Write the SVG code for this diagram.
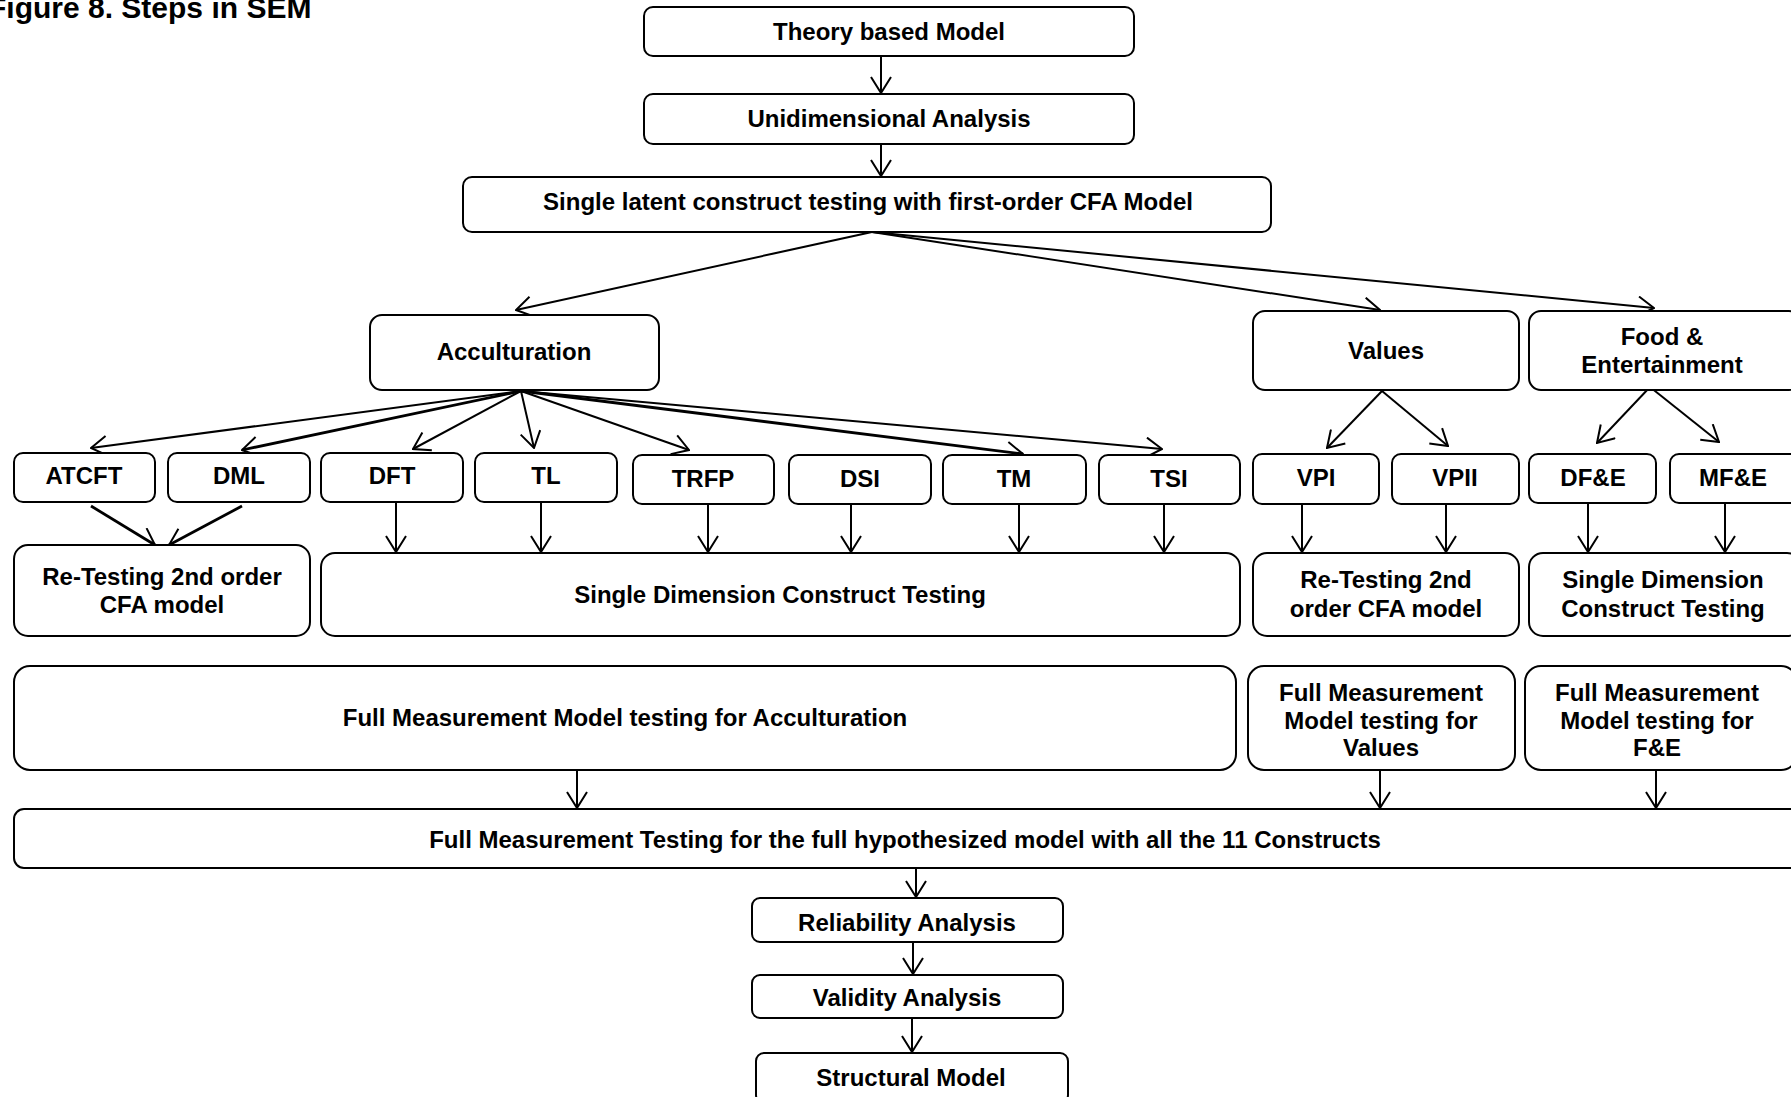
<svg xmlns="http://www.w3.org/2000/svg" width="1791" height="1097" viewBox="0 0 1791 1097">
  <style>
    .box { fill: #fff; stroke: #000; stroke-width: 2; }
    .lbl { font-family: "Liberation Sans", Arial, sans-serif; font-weight: bold; font-size: 24px; fill: #000; text-anchor: middle; }
    .title { font-family: "Liberation Sans", Arial, sans-serif; font-weight: bold; font-size: 30px; fill: #000; }
    .edge { fill: none; stroke: #000; stroke-width: 2; marker-end: url(#arr); }
    .heavy { stroke-width: 2.8; }
  </style>
  <defs>
    <marker id="arr" viewBox="0 0 18 22" refX="17" refY="11" markerWidth="18" markerHeight="22" markerUnits="userSpaceOnUse" orient="auto">
      <path d="M1,1 L17,11 L1,21" fill="none" stroke="#000" stroke-width="2"/>
    </marker>
  </defs>
  <rect width="1791" height="1097" fill="#fff"/>

  <text class="title" x="-12" y="18">Figure 8. Steps in SEM</text>

  <!-- connectors -->
  <g id="connectors">
    <line class="edge" x1="881" y1="56" x2="881" y2="93"/>
    <line class="edge" x1="881" y1="144" x2="881" y2="176"/>
    <line class="edge" x1="872" y1="232" x2="516" y2="310"/>
    <line class="edge" x1="872" y1="232" x2="1380" y2="310"/>
    <line class="edge" x1="872" y1="232" x2="1654" y2="308"/>

    <line class="edge" x1="521" y1="391" x2="91" y2="448"/>
    <line class="edge heavy" x1="521" y1="391" x2="242" y2="450"/>
    <line class="edge" x1="521" y1="391" x2="413" y2="449"/>
    <line class="edge" x1="521" y1="391" x2="534" y2="448"/>
    <line class="edge" x1="521" y1="391" x2="689" y2="450"/>
    <line class="edge heavy" x1="521" y1="391" x2="1023" y2="454"/>
    <line class="edge" x1="521" y1="391" x2="1162" y2="449"/>

    <line class="edge" x1="1382" y1="391" x2="1327" y2="448"/>
    <line class="edge" x1="1382" y1="391" x2="1448" y2="446"/>
    <line class="edge" x1="1650" y1="387" x2="1597" y2="443"/>
    <line class="edge" x1="1650" y1="387" x2="1719" y2="442"/>

    <line class="edge heavy" x1="91" y1="506" x2="155" y2="545"/>
    <line class="edge heavy" x1="242" y1="506" x2="169" y2="545"/>
    <line class="edge" x1="396" y1="502" x2="396" y2="552"/>
    <line class="edge" x1="541" y1="502" x2="541" y2="552"/>
    <line class="edge" x1="708" y1="505" x2="708" y2="552"/>
    <line class="edge" x1="851" y1="505" x2="851" y2="552"/>
    <line class="edge" x1="1019" y1="505" x2="1019" y2="552"/>
    <line class="edge" x1="1164" y1="505" x2="1164" y2="552"/>
    <line class="edge" x1="1302" y1="504" x2="1302" y2="552"/>
    <line class="edge" x1="1446" y1="504" x2="1446" y2="552"/>
    <line class="edge" x1="1588" y1="503" x2="1588" y2="552"/>
    <line class="edge" x1="1725" y1="503" x2="1725" y2="552"/>

    <line class="edge" x1="577" y1="770" x2="577" y2="808"/>
    <line class="edge" x1="1380" y1="770" x2="1380" y2="808"/>
    <line class="edge" x1="1656" y1="770" x2="1656" y2="808"/>

    <line class="edge" x1="916" y1="868" x2="916" y2="897"/>
    <line class="edge" x1="913" y1="942" x2="913" y2="974"/>
    <line class="edge" x1="912" y1="1018" x2="912" y2="1052"/>
  </g>

  <!-- top chain -->
  <g id="theory"><rect class="box" x="644" y="7" width="490" height="49" rx="9"/><text class="lbl" x="889" y="40">Theory based Model</text></g>
  <g id="unidim"><rect class="box" x="644" y="94" width="490" height="50" rx="9"/><text class="lbl" x="889" y="127">Unidimensional Analysis</text></g>
  <g id="single-latent"><rect class="box" x="463" y="177" width="808" height="55" rx="9"/><text class="lbl" x="868" y="210">Single latent construct testing with first-order CFA Model</text></g>

  <!-- constructs -->
  <g id="acculturation"><rect class="box" x="370" y="315" width="289" height="75" rx="12"/><text class="lbl" x="514" y="360">Acculturation</text></g>
  <g id="values"><rect class="box" x="1253" y="311" width="266" height="79" rx="12"/><text class="lbl" x="1386" y="359">Values</text></g>
  <g id="food-ent"><rect class="box" x="1529" y="311" width="272" height="79" rx="12"/><text class="lbl" x="1662" y="345">Food &amp;</text><text class="lbl" x="1662" y="373">Entertainment</text></g>

  <!-- dimensions -->
  <g id="atcft"><rect class="box" x="14" y="453" width="141" height="49" rx="9"/><text class="lbl" x="84" y="484">ATCFT</text></g>
  <g id="dml"><rect class="box" x="168" y="453" width="142" height="49" rx="9"/><text class="lbl" x="239" y="484">DML</text></g>
  <g id="dft"><rect class="box" x="321" y="453" width="142" height="49" rx="9"/><text class="lbl" x="392" y="484">DFT</text></g>
  <g id="tl"><rect class="box" x="475" y="453" width="142" height="49" rx="9"/><text class="lbl" x="546" y="484">TL</text></g>
  <g id="trfp"><rect class="box" x="633" y="455" width="141" height="49" rx="9"/><text class="lbl" x="703" y="487">TRFP</text></g>
  <g id="dsi"><rect class="box" x="789" y="455" width="142" height="49" rx="9"/><text class="lbl" x="860" y="487">DSI</text></g>
  <g id="tm"><rect class="box" x="943" y="455" width="143" height="49" rx="9"/><text class="lbl" x="1014" y="487">TM</text></g>
  <g id="tsi"><rect class="box" x="1099" y="455" width="141" height="49" rx="9"/><text class="lbl" x="1169" y="487">TSI</text></g>
  <g id="vpi"><rect class="box" x="1253" y="454" width="126" height="50" rx="9"/><text class="lbl" x="1316" y="486">VPI</text></g>
  <g id="vpii"><rect class="box" x="1392" y="454" width="127" height="50" rx="9"/><text class="lbl" x="1455" y="486">VPII</text></g>
  <g id="dfe"><rect class="box" x="1529" y="454" width="127" height="49" rx="9"/><text class="lbl" x="1593" y="486">DF&amp;E</text></g>
  <g id="mfe"><rect class="box" x="1670" y="454" width="130" height="49" rx="9"/><text class="lbl" x="1733" y="486">MF&amp;E</text></g>

  <!-- second-level testing -->
  <g id="retest-acc"><rect class="box" x="14" y="545" width="296" height="91" rx="14"/><text class="lbl" x="162" y="585">Re-Testing 2nd order</text><text class="lbl" x="162" y="613">CFA model</text></g>
  <g id="sdct-acc"><rect class="box" x="321" y="553" width="919" height="83" rx="14"/><text class="lbl" x="780" y="603">Single Dimension Construct Testing</text></g>
  <g id="retest-val"><rect class="box" x="1253" y="553" width="266" height="83" rx="14"/><text class="lbl" x="1386" y="588">Re-Testing 2nd</text><text class="lbl" x="1386" y="617">order CFA model</text></g>
  <g id="sdct-fe"><rect class="box" x="1529" y="553" width="272" height="83" rx="14"/><text class="lbl" x="1663" y="588">Single Dimension</text><text class="lbl" x="1663" y="617">Construct Testing</text></g>

  <!-- full measurement models -->
  <g id="fmm-acc"><rect class="box" x="14" y="666" width="1222" height="104" rx="16"/><text class="lbl" x="625" y="726">Full Measurement Model testing for Acculturation</text></g>
  <g id="fmm-val"><rect class="box" x="1248" y="666" width="267" height="104" rx="16"/><text class="lbl" x="1381" y="701">Full Measurement</text><text class="lbl" x="1381" y="729">Model testing for</text><text class="lbl" x="1381" y="756">Values</text></g>
  <g id="fmm-fe"><rect class="box" x="1525" y="666" width="272" height="104" rx="16"/><text class="lbl" x="1657" y="701">Full Measurement</text><text class="lbl" x="1657" y="729">Model testing for</text><text class="lbl" x="1657" y="756">F&amp;E</text></g>

  <g id="fmt-all"><rect class="box" x="14" y="809" width="1786" height="59" rx="10"/><text class="lbl" x="905" y="848">Full Measurement Testing for the full hypothesized model with all the 11 Constructs</text></g>

  <!-- final steps -->
  <g id="reliability"><rect class="box" x="752" y="898" width="311" height="44" rx="8"/><text class="lbl" x="907" y="931">Reliability Analysis</text></g>
  <g id="validity"><rect class="box" x="752" y="975" width="311" height="43" rx="8"/><text class="lbl" x="907" y="1006">Validity Analysis</text></g>
  <g id="structural"><rect class="box" x="756" y="1053" width="312" height="50" rx="8"/><text class="lbl" x="911" y="1086">Structural Model</text></g>
</svg>
